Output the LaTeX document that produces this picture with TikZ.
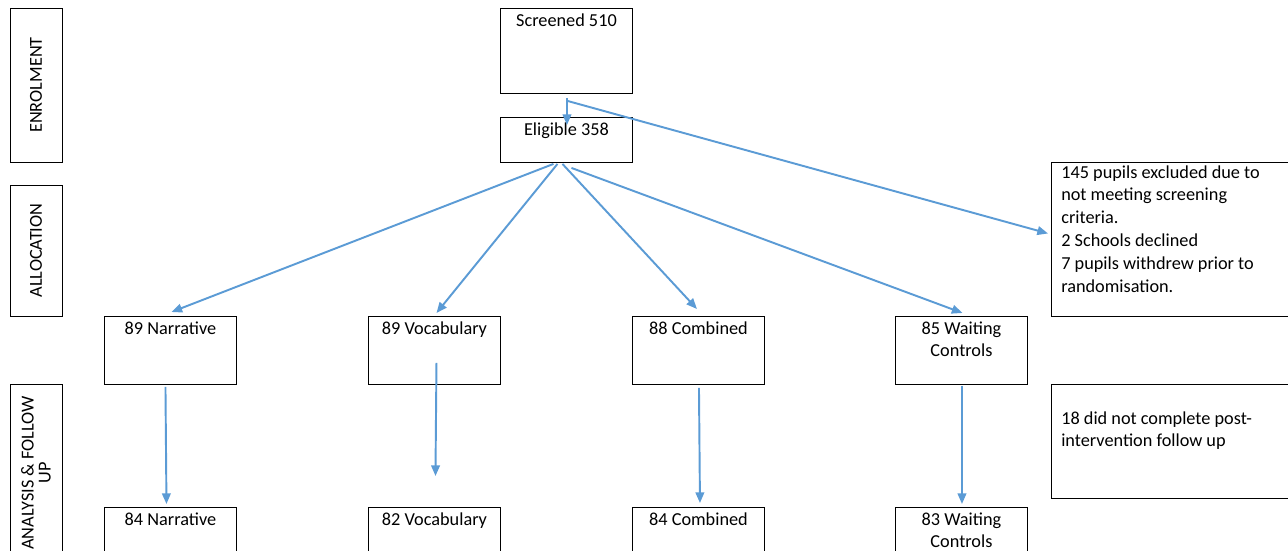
\documentclass[tikz,border=0pt]{standalone}
\usepackage{xcolor}
\usepackage{fontspec}
\setmainfont{Carlito}
\usetikzlibrary{calc,arrows.meta}
\definecolor{arrowblue}{RGB}{91,155,213}
\tikzset{
  box/.style={draw, line width=0.7pt, inner sep=0pt, anchor=north west,
    minimum width=99pt, minimum height=51pt},
  phase/.style={draw, line width=0.7pt, inner sep=0pt, rotate=90, align=center,
    minimum height=39pt, font=\fontsize{13.7pt}{12.75pt}\selectfont},
  txt/.style={anchor=base, yshift=-13.5pt, align=center, inner sep=0pt,
    font=\fontsize{13.7pt}{17.1pt}\selectfont},
  arr/.style={-{Triangle[length=8pt,width=6.5pt]}, draw=arrowblue, line width=1.45pt}
}

\begin{document}
\begin{tikzpicture}[x=0.75pt, y=-0.75pt]
  \clip (0,0) rectangle (1288,550);
  % phases
  \node[phase, minimum width=115.5pt] (enrol) at (36,85)  {ENROLMENT};
  \node[phase, minimum width=98.25pt] (alloc) at (36,250.5) {ALLOCATION};
  \node[phase, minimum width=133.5pt] (anal)  at (36,473) {ANALYSIS \& FOLLOW\\UP};
  % enrolment
  \node[box, minimum height=63.75pt, label={[txt]north:Screened 510}] (scr) at (500,8) {};
  \node[box, minimum height=33.75pt, label={[txt]north:Eligible 358}] (elig) at (500,117) {};
  % exclusions (base is the last line)
  \node[box, minimum width=195pt, minimum height=115.5pt,
    label={[txt, anchor=base west, align=left, xshift=7.5pt, yshift=-84pt]north west:145 pupils excluded due to\\not meeting screening\\criteria.\\2 Schools declined\\7 pupils withdrew prior to\\randomisation.}] (excl) at (1051,162) {};
  \node[box, minimum width=195pt, minimum height=85.5pt,
    label={[txt, anchor=base west, align=left, xshift=7.5pt, yshift=-33.6pt]north west:18 did not complete post-\\intervention follow up}] (lost) at (1051,384) {};
  % allocation
  \node[box, label={[txt]north:89 Narrative}]  (n1) at (104,316) {};
  \node[box, label={[txt]north:89 Vocabulary}] (v1) at (368,316) {};
  \node[box, label={[txt]north:88 Combined}]   (c1) at (632,316) {};
  \node[box, label={[txt, yshift=-17.1pt]north:85 Waiting\\Controls}] (w1) at (895,316) {};
  % follow up
  \node[box, label={[txt]north:84 Narrative}]  (n2) at (104,507) {};
  \node[box, label={[txt]north:82 Vocabulary}] (v2) at (368,507) {};
  \node[box, label={[txt]north:84 Combined}]   (c2) at (632,507) {};
  \node[box, label={[txt, yshift=-17.1pt]north:83 Waiting\\Controls}] (w2) at (895,507) {};
  % arrows
  \draw[arr] ([shift={(0.5,4)}]scr.south) -- ([shift={(0.5,8)}]elig.north);
  \draw[arr] ([shift={(1,7)}]scr.south) -- ([shift={(-3,-6)}]excl.west);
  \draw[arr] ([shift={(-13,1)}]elig.south) -- ([shift={(1,-4)}]n1.north);
  \draw[arr] ([shift={(-9,1)}]elig.south) -- ([shift={(2,-3)}]v1.north);
  \draw[arr] ([shift={(-4,1)}]elig.south) -- ([shift={(-1.5,-7)}]c1.north);
  \draw[arr] ([shift={(5,5)}]elig.south) -- ([shift={(1,-3)}]w1.north);
  \draw[arr] ([shift={(-5,2)}]n1.south) -- ([shift={(-4,-3)}]n2.north);
  \draw[arr] ([shift={(2,-22)}]v1.south) -- ([shift={(1,-31)}]v2.north);
  \draw[arr] ([shift={(0.5,3)}]c1.south) -- ([shift={(1.5,-4)}]c2.north);
  \draw[arr] ([shift={(0.5,1)}]w1.south) -- ([shift={(0.5,-3)}]w2.north);
\end{tikzpicture}
\end{document}
